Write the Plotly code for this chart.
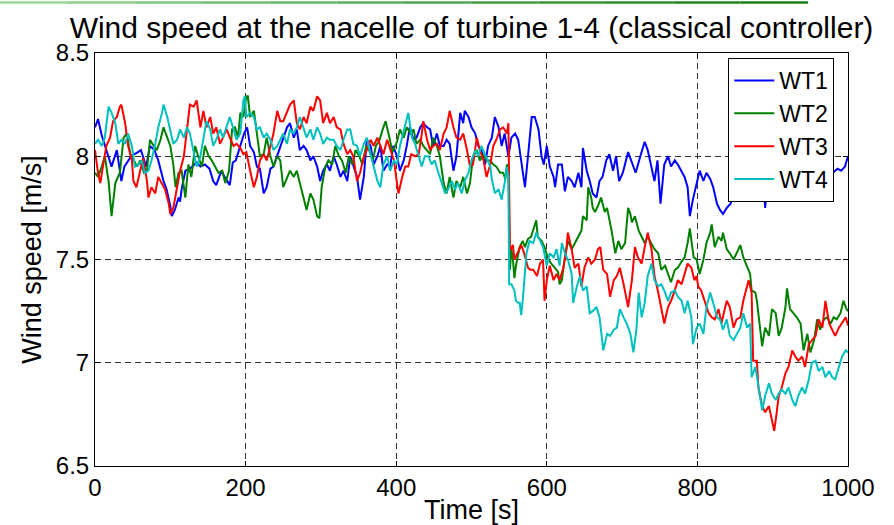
import plotly.graph_objects as go

# ---- data: (time [s], wind speed [m/s]) ----
wt1 = [(0,8.14),(4,8.18),(9,8.10),(13,8.05),(18,7.99),(22,7.95),(29,8.03),(35,7.88),(39,7.95),(48,8.00),
       (57,8.02),(61,8.03),(68,7.95),(73,8.05),(79,8.03),(84,7.98),(91,7.88),(95,7.84),(100,7.76),(102,7.71),
       (106,7.74),(111,7.80),(113,7.78),(115,7.84),(120,7.93),(126,7.94),(135,7.97),(140,7.95),(146,7.96),(152,7.94),
       (157,7.88),(161,7.86),(168,7.93),(172,7.90),(179,7.86),(183,7.97),(187,7.98),(194,8.06),(198,8.11),(202,8.14),
       (206,8.05),(211,8.02),(215,7.95),(219,7.94),(224,7.82),(228,7.85),(233,7.94),(237,7.95),(242,8.00),(246,8.05),
       (250,8.09),(255,8.14),(259,8.16),(264,8.09),(268,8.13),(272,8.03),(277,8.05),(281,8.03),(286,7.98),(290,8.00),
       (295,7.95),(299,7.88),(303,7.93),(308,7.96),(312,7.93),(317,8.00),(321,7.96),(326,7.90),(330,7.93),(335,7.88),
       (339,8.00),(343,7.95),(348,7.90),(352,7.79),(357,7.90),(361,8.08),(366,8.05),(370,7.96),(375,8.00),(379,8.05),
       (383,7.93),(388,7.96),(392,7.95),(396,8.05),(401,8.00),(405,7.93),(410,7.98),(414,8.05),(418,8.14),(423,8.08),
       (427,8.09),(432,8.14),(436,8.16),(441,8.14),(445,8.13),(449,8.05),(454,8.11),(458,8.05),(463,8.05),(467,8.08),
       (471,8.06),(476,7.93),(480,8.00),(485,8.21),(489,8.16),(491,8.22),(496,8.19),(500,8.14),(505,8.11),(509,8.05),
       (513,8.03),(518,7.96),(522,8.05),(527,8.09),(531,8.19),(536,8.14),(540,8.05),(544,8.11),(549,8.00),(553,8.09),
       (558,8.11),(562,8.08),(567,7.95),(571,7.85),(575,8.00),(580,8.19),(584,8.19),(589,8.13),(593,8.00),(596,7.96),
       (600,8.05),(604,7.95),(609,7.90),(611,7.85),(615,7.96),(620,7.96),(624,7.83),(628,7.90),(633,7.88),(637,7.85),
       (642,7.92),(646,7.85),(648,8.04),(653,7.93),(657,7.88),(661,7.82),(666,7.80),(670,7.88),(674,7.90),(679,7.98),
       (683,8.01),(688,7.93),(692,8.00),(696,7.88),(701,7.92),(708,8.02),(714,7.96),(718,7.92),(725,8.01),(730,8.07),
       (734,8.03),(739,7.95),(743,7.88),(747,7.98),(751,7.77),(756,7.96),(761,8.00),(765,7.95),(770,7.98),(774,7.96),
       (779,7.93),(783,7.90),(787,7.85),(790,7.71),(794,7.79),(798,7.85),(803,7.93),(808,7.88),(812,7.92),(817,7.89),
       (821,7.85),(826,7.77),(830,7.74),(834,7.72),(839,7.75),(844,7.77),(848,7.82),(853,7.86),(858,7.88),(861,7.80),
       (864,7.88),(870,7.90),(876,7.87),(882,7.89),(887,7.90),(890,7.75),(893,7.88),(900,7.90),(906,7.87),(912,7.83),
       (916,7.89),(922,7.88),(928,7.91),(932,7.80),(936,7.90),(942,7.88),(948,7.92),(954,7.89),(960,7.90),(966,7.88),
       (971,7.91),(976,7.79),(980,7.92),(986,7.94),(991,7.93),(996,7.95),(1000,8.00)]

wt2 = [(0,7.92),(4,7.90),(9,7.95),(13,8.00),(18,7.88),(22,7.71),(27,7.87),(33,7.92),(38,8.09),(42,8.11),
       (47,8.01),(51,7.98),(56,7.95),(60,7.98),(65,7.92),(69,7.93),(73,8.08),(78,8.05),(82,8.03),(87,8.08),
       (91,8.14),(96,8.09),(100,8.05),(104,7.96),(107,7.85),(111,7.92),(115,7.93),(120,7.80),(124,7.96),(128,7.90),
       (133,8.05),(137,8.00),(142,7.95),(146,8.05),(151,8.00),(155,7.98),(160,7.95),(164,7.92),(169,7.93),(173,7.87),
       (178,7.93),(182,8.13),(186,8.14),(190,8.09),(193,8.21),(197,8.19),(201,8.29),(203,8.29),(206,8.19),(211,8.22),
       (215,8.11),(219,8.00),(224,8.01),(228,8.09),(233,8.00),(237,7.95),(242,8.00),(246,7.98),(250,7.85),(255,7.90),
       (259,7.93),(264,7.90),(268,7.93),(272,7.87),(277,7.80),(281,7.74),(286,7.82),(290,7.79),(295,7.71),(298,7.70),
       (301,7.85),(306,7.95),(310,7.98),(315,7.96),(319,8.05),(324,8.00),(328,7.98),(333,7.92),(337,8.00),(342,7.96),
       (346,8.03),(351,8.00),(355,7.96),(360,8.05),(364,8.03),(369,7.98),(373,8.05),(378,8.08),(382,8.13),(386,8.17),
       (391,8.09),(395,8.02),(401,8.07),(405,8.13),(410,8.09),(414,8.14),(419,8.11),(423,8.13),(427,8.06),(432,8.08),
       (436,8.05),(441,8.03),(445,8.01),(449,8.09),(454,8.05),(458,8.00),(463,7.87),(467,7.82),(471,7.90),(476,7.80),
       (480,7.88),(485,7.85),(489,7.90),(494,7.82),(498,7.87),(502,8.00),(507,8.03),(511,7.98),(516,8.01),(520,7.98),
       (525,7.98),(529,7.96),(533,7.95),(538,7.92),(542,7.92),(545,7.89),(547,7.96),(549,7.95),(551,7.45),(553,7.55),
       (555,7.50),(557,7.41),(559,7.47),(564,7.56),(568,7.59),(571,7.56),(575,7.60),(579,7.61),(584,7.67),(586,7.69),
       (588,7.61),(593,7.59),(597,7.56),(602,7.50),(606,7.48),(611,7.46),(615,7.44),(617,7.38),(620,7.40),(624,7.51),
       (628,7.59),(633,7.55),(637,7.58),(642,7.61),(646,7.64),(648,7.71),(653,7.69),(655,7.85),(659,7.80),(661,7.75),
       (664,7.73),(668,7.76),(672,7.80),(677,7.73),(680,7.75),(686,7.64),(691,7.53),(695,7.59),(699,7.55),(704,7.58),
       (708,7.75),(711,7.72),(713,7.68),(717,7.71),(722,7.64),(726,7.61),(730,7.58),(734,7.61),(739,7.58),(743,7.55),
       (748,7.53),(752,7.45),(757,7.47),(761,7.43),(765,7.39),(770,7.45),(774,7.46),(779,7.49),(783,7.51),(787,7.58),
       (790,7.65),(795,7.51),(799,7.50),(803,7.43),(808,7.50),(812,7.58),(817,7.63),(819,7.67),(823,7.56),(828,7.61),
       (832,7.59),(834,7.63),(839,7.55),(843,7.53),(848,7.50),(852,7.53),(857,7.57),(861,7.51),(866,7.46),(870,7.43),
       (872,7.35),(877,7.34),(879,7.30),(883,7.16),(886,7.08),(890,7.17),(895,7.13),(899,7.26),(904,7.24),(908,7.13),
       (912,7.17),(917,7.27),(919,7.36),(923,7.26),(928,7.24),(932,7.22),(937,7.19),(941,7.06),(946,7.14),(950,7.05),
       (955,7.11),(959,7.21),(963,7.16),(968,7.21),(972,7.22),(977,7.19),(981,7.22),(985,7.21),(990,7.24),(994,7.30),
       (998,7.26),(1000,7.25)]

wt3 = [(0,8.03),(4,7.92),(7,7.87),(11,7.95),(15,8.05),(20,8.09),(24,8.17),(29,8.19),(33,8.24),(35,8.25),
       (40,8.16),(44,8.05),(49,7.98),(51,7.88),(55,7.85),(60,7.93),(64,7.99),(69,7.88),(71,7.80),(75,7.85),
       (80,7.82),(84,7.90),(88,7.87),(93,7.84),(98,7.77),(100,7.72),(104,7.75),(109,7.84),(113,7.93),(118,8.00),
       (122,8.14),(126,8.25),(131,8.24),(135,8.27),(140,8.14),(144,8.22),(148,8.14),(153,8.19),(157,8.11),(161,8.14),
       (166,8.06),(170,8.09),(175,8.13),(179,8.09),(184,8.05),(188,8.06),(193,8.04),(197,8.01),(201,8.02),(206,7.93),
       (211,7.85),(215,7.90),(219,7.98),(224,8.01),(228,7.98),(233,8.05),(237,8.11),(242,8.22),(246,8.17),(250,8.17),
       (255,8.22),(259,8.25),(264,8.27),(268,8.16),(272,8.13),(277,8.19),(281,8.16),(286,8.24),(290,8.22),(295,8.29),
       (299,8.27),(303,8.16),(308,8.21),(312,8.16),(317,8.19),(321,8.14),(326,8.13),(330,8.06),(335,8.01),(339,8.03),
       (343,8.00),(348,7.88),(352,7.92),(357,8.00),(361,8.03),(366,8.08),(370,8.05),(375,8.09),(379,8.05),(383,8.01),
       (388,8.08),(392,8.03),(397,7.98),(401,7.87),(403,7.82),(408,7.90),(412,7.95),(416,7.95),(420,8.01),(425,8.00),
       (430,8.01),(434,8.11),(436,8.17),(441,8.08),(445,8.03),(449,8.05),(454,8.06),(458,8.03),(463,8.11),(467,8.14),
       (471,8.22),(476,8.14),(480,8.09),(485,8.08),(489,8.11),(494,8.03),(498,7.95),(502,7.96),(507,8.09),(511,8.03),
       (516,7.98),(520,7.90),(525,7.96),(529,8.05),(533,8.08),(538,8.13),(542,8.14),(547,8.11),(549,8.16),(551,7.55),
       (552,7.55),(555,7.57),(557,7.50),(561,7.53),(566,7.57),(570,7.53),(575,7.46),(578,7.45),(582,7.45),(587,7.42),
       (591,7.48),(595,7.50),(597,7.30),(600,7.40),(604,7.47),(609,7.40),(613,7.43),(617,7.40),(622,7.46),(626,7.55),
       (628,7.63),(633,7.55),(637,7.46),(642,7.48),(646,7.37),(650,7.46),(655,7.51),(659,7.48),(664,7.50),(668,7.55),
       (671,7.56),(675,7.45),(680,7.43),(684,7.32),(689,7.40),(693,7.42),(697,7.46),(702,7.38),(706,7.30),(708,7.27),
       (713,7.40),(717,7.56),(721,7.51),(726,7.48),(730,7.56),(734,7.63),(739,7.55),(743,7.42),(748,7.34),(752,7.26),
       (756,7.19),(761,7.27),(765,7.30),(770,7.35),(774,7.40),(779,7.38),(783,7.43),(787,7.48),(792,7.46),(796,7.40),
       (799,7.42),(801,7.37),(805,7.35),(810,7.30),(815,7.24),(819,7.22),(823,7.21),(828,7.26),(832,7.19),(835,7.24),
       (839,7.30),(843,7.27),(848,7.17),(852,7.21),(857,7.22),(861,7.30),(866,7.38),(868,7.40),(872,7.34),(874,7.01),
       (879,7.01),(881,6.88),(886,6.79),(890,6.76),(895,6.79),(899,6.72),(902,6.67),(905,6.75),(908,6.84),(912,6.88),
       (917,6.95),(921,6.98),(926,7.06),(930,7.03),(934,7.01),(939,7.03),(943,6.98),(948,7.09),(952,7.11),(957,7.13),
       (961,7.21),(966,7.17),(970,7.30),(975,7.19),(979,7.16),(983,7.13),(988,7.17),(992,7.19),(997,7.22),(1000,7.18)]

wt4 = [(0,8.06),(4,8.08),(9,8.05),(13,8.09),(18,8.24),(22,8.21),(27,8.16),(31,8.06),(35,8.08),(40,8.06),
       (44,8.11),(49,8.05),(53,7.95),(58,7.96),(62,7.98),(66,7.92),(71,7.93),(75,7.98),(80,8.06),(84,8.14),
       (89,8.21),(91,8.25),(96,8.19),(100,8.13),(104,8.06),(109,8.08),(113,8.13),(118,8.09),(122,8.14),(126,8.11),
       (131,8.03),(135,7.95),(140,8.00),(144,8.08),(148,8.17),(153,8.13),(157,8.05),(161,8.08),(166,8.13),(170,8.09),
       (175,8.14),(179,8.19),(184,8.13),(188,8.08),(193,8.11),(197,8.27),(199,8.29),(201,8.19),(206,8.21),(211,8.19),
       (215,8.13),(219,8.14),(224,8.09),(228,8.11),(233,8.08),(237,8.03),(242,8.05),(246,8.08),(250,8.11),(255,8.06),
       (259,8.13),(264,8.11),(268,8.14),(272,8.19),(277,8.13),(281,8.09),(286,8.13),(290,8.08),(295,8.14),(299,8.11),
       (303,8.06),(308,8.09),(312,8.08),(317,8.08),(321,8.05),(326,8.03),(330,8.08),(335,8.13),(339,8.13),(343,8.06),
       (348,8.05),(352,8.00),(357,8.06),(361,8.09),(366,8.01),(370,7.95),(375,7.88),(379,7.85),(383,7.96),(388,8.00),
       (392,7.93),(397,7.98),(401,7.96),(405,8.05),(410,8.13),(414,8.19),(416,8.21),(421,8.09),(425,8.06),(430,8.00),
       (434,7.95),(438,8.00),(443,8.00),(447,7.96),(451,7.98),(456,7.92),(460,7.88),(465,7.82),(469,7.84),(474,7.88),
       (478,7.84),(482,7.87),(487,7.82),(491,7.88),(496,7.92),(500,7.98),(505,8.03),(509,8.00),(513,8.05),(518,8.01),
       (522,7.98),(525,7.95),(527,7.89),(531,7.82),(536,7.84),(540,7.79),(544,7.87),(547,7.95),(549,7.90),(550,7.38),
       (553,7.38),(557,7.35),(559,7.30),(562,7.29),(564,7.29),(566,7.23),(568,7.30),(571,7.45),(573,7.53),(577,7.59),
       (582,7.58),(586,7.63),(591,7.59),(595,7.56),(600,7.47),(604,7.53),(609,7.51),(613,7.55),(617,7.47),(620,7.58),
       (624,7.53),(628,7.50),(633,7.43),(635,7.29),(640,7.37),(644,7.42),(648,7.35),(653,7.37),(657,7.24),(661,7.25),
       (666,7.27),(670,7.22),(675,7.06),(680,7.14),(684,7.13),(689,7.16),(693,7.17),(697,7.26),(702,7.22),(706,7.19),
       (711,7.14),(715,7.05),(719,7.16),(722,7.34),(726,7.22),(730,7.29),(734,7.42),(739,7.48),(743,7.40),(748,7.37),
       (752,7.38),(756,7.35),(761,7.30),(765,7.34),(770,7.35),(774,7.32),(779,7.30),(783,7.24),(787,7.30),(792,7.22),
       (794,7.09),(799,7.17),(803,7.19),(808,7.14),(812,7.27),(817,7.34),(821,7.29),(826,7.22),(830,7.21),(834,7.16),
       (839,7.21),(843,7.13),(848,7.11),(852,7.14),(857,7.17),(861,7.24),(866,7.17),(870,7.19),(872,6.93),(877,6.98),
       (881,6.88),(886,6.77),(890,6.84),(895,6.90),(899,6.85),(904,6.82),(908,6.85),(912,6.87),(917,6.85),(921,6.88),
       (926,6.82),(930,6.79),(934,6.84),(939,6.88),(943,6.85),(948,6.92),(952,7.00),(957,7.01),(961,6.96),(966,6.98),
       (970,6.93),(975,6.96),(979,6.93),(983,6.92),(988,6.98),(992,7.03),(997,7.06),(1000,7.05)]

series_names = ["WT1", "WT2", "WT3", "WT4"]
series_colors = ["#0000FF", "#008000", "#FF0000", "#00BFBF"]
x_ticks = [0, 200, 400, 600, 800, 1000]
y_ticks = [6.5, 7, 7.5, 8, 8.5]
y_tick_labels = ["6.5", "7", "7.5", "8", "8.5"]

FONT = "Liberation Sans, Arial, Helvetica, sans-serif"

fig = go.Figure()
for name, color, data in zip(series_names, series_colors, [wt1, wt2, wt3, wt4]):
    fig.add_trace(go.Scatter(
        x=[p[0] for p in data], y=[p[1] for p in data],
        mode="lines", name=name,
        line=dict(color=color, width=2),
    ))

axis_common = dict(
    showline=True, linecolor="black", linewidth=1, mirror="ticks",
    ticks="inside", ticklen=5, tickcolor="black",
    showgrid=True, gridcolor="#333333", gridwidth=1, griddash="6px,4px",
    zeroline=False, automargin=False,
    tickfont=dict(family=FONT, size=24, color="black"),
)

fig.update_xaxes(range=[0, 1000], tickvals=x_ticks,
                 title=dict(text="Time [s]", font=dict(family=FONT, size=27, color="black"), standoff=0),
                 **axis_common)
fig.update_yaxes(range=[6.5, 8.5], tickvals=y_ticks, ticktext=y_tick_labels,
                 title=dict(text="Wind speed [m/s]", font=dict(family=FONT, size=27, color="black"), standoff=6),
                 **axis_common)

# decorative green rule at the top of the slide (light to dark green)
n_seg = 12
x_start, x_end = -95 / 753, (808 - 95) / 753
for i in range(n_seg):
    f = i / (n_seg - 1)
    r = int(150 + (20 - 150) * f)
    g = int(215 + (125 - 215) * f)
    b = int(150 + (20 - 150) * f)
    fig.add_shape(type="line", xref="paper", yref="paper",
                  x0=x_start + (x_end - x_start) * i / n_seg,
                  x1=x_start + (x_end - x_start) * (i + 1) / n_seg,
                  y0=1.122, y1=1.122,
                  line=dict(color=f"rgb({r},{g},{b})", width=2.5))

fig.update_layout(
    width=894, height=525,
    margin=dict(l=95, r=46, t=53, b=59),
    paper_bgcolor="white", plot_bgcolor="white",
    font=dict(family=FONT, color="black"),
    title=dict(text="Wind speed at the nacelle of turbine 1-4 (classical controller)",
               font=dict(family=FONT, size=30, color="black"),
               x=0.5, xref="paper", xanchor="center",
               y=1 - 27 / 525, yref="container", yanchor="middle"),
    legend=dict(x=0.841, y=0.988, xanchor="left", yanchor="top",
                bgcolor="white", bordercolor="black", borderwidth=1,
                font=dict(family=FONT, size=23, color="black"),
                tracegroupgap=0, itemwidth=40),
    showlegend=True,
)

fig.write_html("out.html")
